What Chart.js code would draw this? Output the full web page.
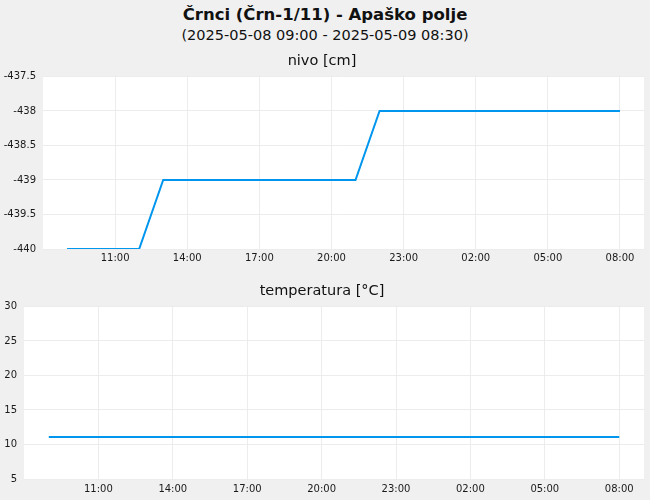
<!DOCTYPE html>
<html>
<head>
<meta charset="utf-8">
<script src="https://cdn.jsdelivr.net/npm/chart.js@4/dist/chart.umd.min.js"></script>
<style>
  html, body { margin:0; padding:0; background:#f0f0f0; width:650px; height:500px; overflow:hidden; }
  body { position:relative; font-family:"DejaVu Sans", sans-serif; color:#111; }
  .t { position:absolute; left:0; width:650px; text-align:center; white-space:nowrap; }
  #title { top:4px; height:21px; line-height:21px; font-size:16.5px; font-weight:bold; }
  #subtitle { top:25px; height:20px; line-height:20px; font-size:14.5px; }
  canvas { position:absolute; left:0; }
</style>
</head>
<body>
<div id="title" class="t">Črnci (Črn-1/11) - Apaško polje</div>
<div id="subtitle" class="t">(2025-05-08 09:00 - 2025-05-09 08:30)</div>
<canvas id="c1" width="650" height="217" style="top:50px"></canvas>
<canvas id="c2" width="650" height="219" style="top:280px"></canvas>
<script>
// ---- data ----
const times = [
  "2025-05-08 09:00","2025-05-08 10:00","2025-05-08 11:00","2025-05-08 12:00",
  "2025-05-08 13:00","2025-05-08 14:00","2025-05-08 15:00","2025-05-08 16:00",
  "2025-05-08 17:00","2025-05-08 18:00","2025-05-08 19:00","2025-05-08 20:00",
  "2025-05-08 21:00","2025-05-08 22:00","2025-05-08 23:00","2025-05-09 00:00",
  "2025-05-09 01:00","2025-05-09 02:00","2025-05-09 03:00","2025-05-09 04:00",
  "2025-05-09 05:00","2025-05-09 06:00","2025-05-09 07:00","2025-05-09 08:00"
];
const nivoValues = [
  -440, -440, -440, -440,
  -439, -439, -439, -439,
  -439, -439, -439, -439,
  -439, -438, -438, -438,
  -438, -438, -438, -438,
  -438, -438, -438, -438
];
const tempValues = [
  11.1, 11.1, 11.1, 11.1, 11.1, 11.1, 11.1, 11.1,
  11.1, 11.1, 11.1, 11.1, 11.1, 11.1, 11.1, 11.1,
  11.1, 11.1, 11.1, 11.1, 11.1, 11.1, 11.1, 11.1
];
const xTickLabels = ["11:00","14:00","17:00","20:00","23:00","02:00","05:00","08:00"];
const axisStart = "2025-05-08 08:00";
const axisEnd = "2025-05-09 09:00";
const nivoTicks = ["-440","-439.5","-439","-438.5","-438","-437.5"];
const tempTicks = ["5","10","15","20","25","30"];

// ---- helpers ----
function hoursOf(s) {
  const day = parseInt(s.slice(8,10),10);
  const hh = parseInt(s.slice(11,13),10);
  const mm = parseInt(s.slice(14,16),10);
  return day*24 + hh + mm/60;
}
const base = hoursOf(axisStart);
const toX = s => hoursOf(s) - base;
// tick labels are consecutive 3-hour steps after the axis start
let prev = 0;
const xTickVals = xTickLabels.map(l=>{
  const h = parseInt(l.slice(0,2),10) + parseInt(l.slice(3,5),10)/60;
  let v = h - (base % 24);
  while (v <= prev) v += 24;
  prev = v;
  return v;
});

Chart.defaults.font.family = '"DejaVu Sans", sans-serif';
Chart.defaults.color = '#1a1a1a';
Chart.defaults.devicePixelRatio = 1;

const whiteArea = {
  id:'whiteArea',
  beforeDraw(chart) {
    const {ctx, chartArea:a} = chart;
    ctx.save(); ctx.fillStyle = '#ffffff';
    ctx.fillRect(a.left, a.top, a.right-a.left, a.bottom-a.top);
    ctx.restore();
  }
};

function makeChart(id, title, values, yTicks, yWidth, xPad) {
  const yv = yTicks.map(Number);
  return new Chart(document.getElementById(id), {
    type:'line',
    data:{ datasets:[{
      data: times.map((t,i)=>({x:toX(t), y:values[i]})),
      borderColor:'#0096ee', borderWidth:2, pointRadius:0, tension:0, fill:false
    }]},
    options:{
      responsive:false, animation:false,
      layout:{ padding:{ left:0, right:6, top:0, bottom:0 } },
      plugins:{
        legend:{display:false}, tooltip:{enabled:false},
        title:{ display:true, text:title, color:'#111',
          font:{ size:14.5, weight:'normal' }, padding:{top:3, bottom:6} }
      },
      scales:{
        x:{ type:'linear', min:0, max:toX(axisEnd),
          grid:{ color:'#ececec', drawTicks:false },
          border:{ display:false },
          afterBuildTicks: s => { s.ticks = xTickVals.map(v=>({value:v})); },
          ticks:{ padding:xPad, maxRotation:0, autoSkip:false, font:{size:10},
            callback:(v)=>{ const i = xTickVals.indexOf(v); return i>=0 ? xTickLabels[i] : ''; } }
        },
        y:{ type:'linear', min:yv[0], max:yv[yv.length-1],
          grid:{ color:'#ececec', drawTicks:false },
          border:{ display:false },
          afterBuildTicks: s => { s.ticks = yv.map(v=>({value:v})); },
          afterFit: s => { s.width = yWidth; },
          ticks:{ padding:7, font:{size:10},
            callback:(v)=>{ const i = yv.indexOf(v); return i>=0 ? yTicks[i] : ''; } }
        }
      }
    },
    plugins:[whiteArea]
  });
}

makeChart('c1', 'nivo [cm]', nivoValues, nivoTicks, 43, 3);
makeChart('c2', 'temperatura [°C]', tempValues, tempTicks, 24, 4);
</script>
</body>
</html>
